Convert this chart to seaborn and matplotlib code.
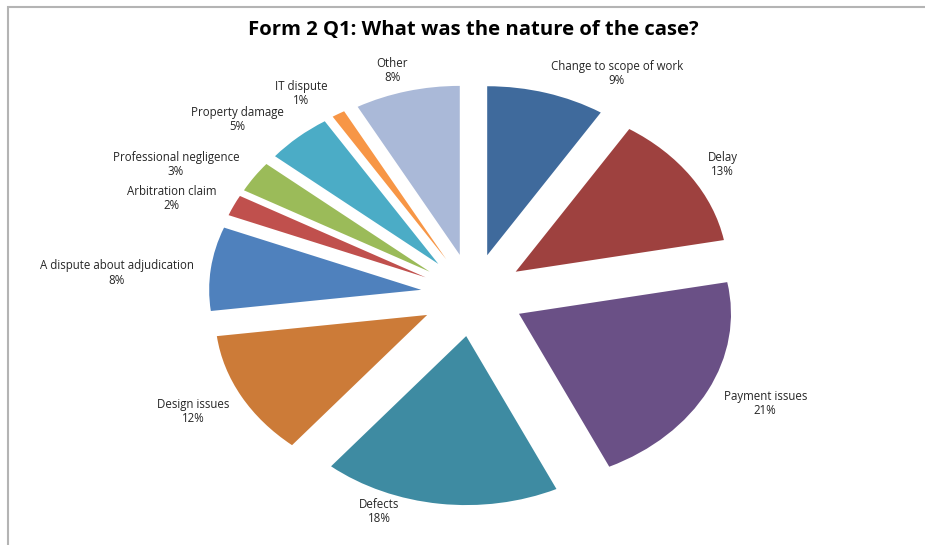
import matplotlib
matplotlib.use("Agg")
import matplotlib.pyplot as plt
import seaborn as sns
from matplotlib.patches import Rectangle

# ======================
# Data
# ======================
categories = ["Change to scope of work", "Delay", "Payment issues", "Defects",
              "Design issues", "A dispute about adjudication", "Arbitration claim",
              "Professional negligence", "Property damage", "IT dispute", "Other"]
shares = [9, 13, 21, 18, 12, 8, 2, 3, 5, 1, 8]

colors = ["#3F6A9C", "#9E413F", "#6A5086", "#3E8BA2", "#CC7B38",
          "#4F81BD", "#C0504D", "#9BBB59", "#4BACC6", "#F79646", "#AAB9D8"]

# label block centres, in pie units (radius = 1)
label_xy = [(0.68, 1.31), (1.18, 0.77), (1.38, -0.64), (-0.44, -1.28),
            (-1.32, -0.69), (-1.68, 0.13), (-1.42, 0.57), (-1.40, 0.77),
            (-1.11, 1.04), (-0.81, 1.19), (-0.38, 1.33)]

sns.set_theme(style="white")
plt.rcParams["font.family"] = ["Open Sans", "DejaVu Sans"]

W, H = 925, 545
fig = plt.figure(figsize=(W / 100, H / 100), dpi=100)
ax = fig.add_axes([0, 0, 1, 1])

ax.pie(shares, colors=colors, startangle=90, counterclock=False,
       explode=[0.245] * len(shares), radius=1,
       wedgeprops=dict(linewidth=0))

# stretch the pie into an ellipse like the Excel original
cx, cy = 472.7, 295   # centre, pixels from top-left
rx, ry = 212, 169     # radius in pixels along x / y
ax.set_aspect("auto")
ax.set_xlim(-cx / rx, (W - cx) / rx)
ax.set_ylim((cy - H) / ry, cy / ry)
ax.axis("off")

for (x, y), cat, val in zip(label_xy, categories, shares):
    ax.text(x, y, f"{cat}\n{val}%", ha="center", va="center",
            fontsize=8.3, color="#262626", linespacing=1.12)

fig.text(473 / W, 1 - 30 / H, "Form 2 Q1: What was the nature of the case?",
         ha="center", va="center", fontsize=14.6, fontweight="bold", color="black")

# chart area border (only top/left visible in the crop)
fig.add_artist(Rectangle((8 / W, -0.1), 1.1, (H - 7) / H + 0.1,
                         transform=fig.transFigure, fill=False,
                         edgecolor="#B4B4B4", linewidth=1.5))

fig.savefig("out.png", dpi=100)
plt.close()
